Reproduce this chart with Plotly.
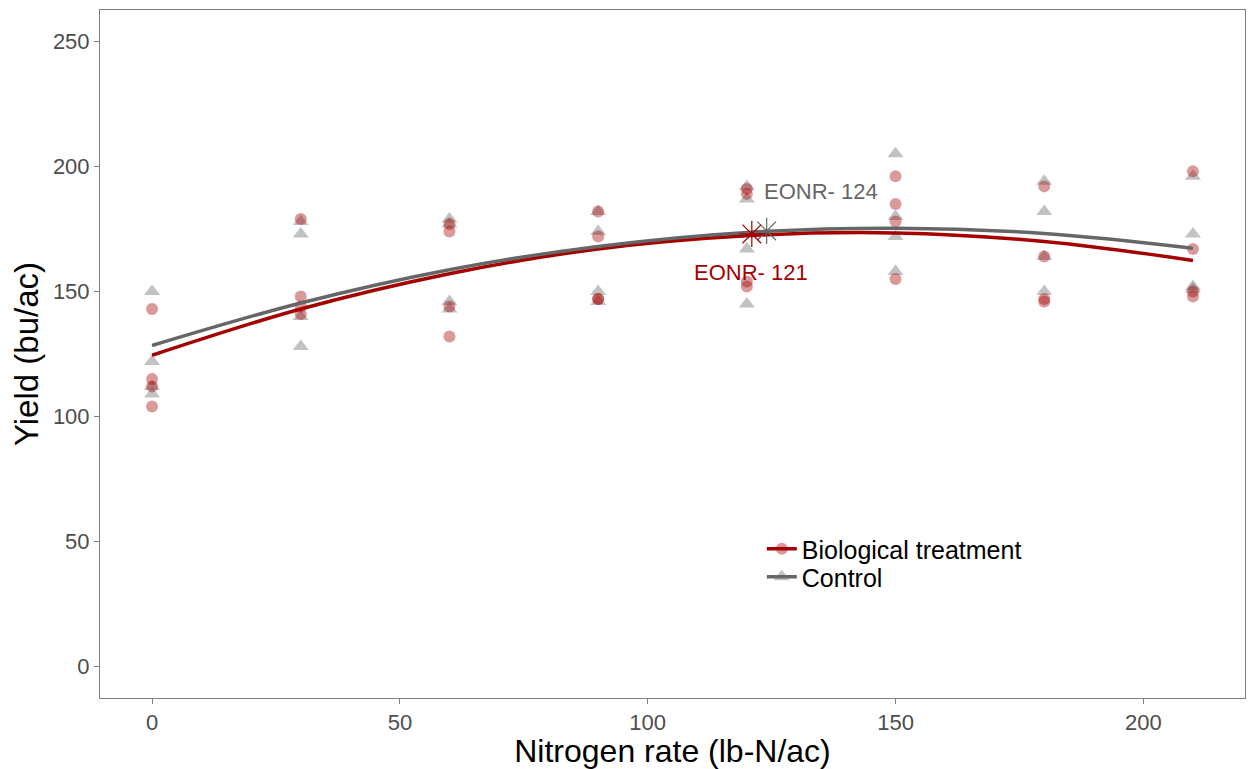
import plotly.graph_objects as go

# --- data ---
n_rates = [0, 30, 60, 90, 120, 150, 180, 210]

bio_x = [r for r in n_rates for _ in range(4)]
bio_y = [143, 115, 112, 104,
         179, 148, 144, 141,
         177, 174, 144, 132,
         182, 172, 147, 147,
         191, 189, 154, 152,
         196, 185, 178, 155,
         192, 164, 147, 146,
         198, 167, 150, 148]

ctrl_x = [r for r in n_rates for _ in range(4)]
ctrl_y = [150, 122, 112, 109,
          178, 173, 140, 128,
          179, 177, 146, 143,
          182, 174, 150, 146,
          192, 187, 167, 145,
          205, 180, 172, 158,
          194, 182, 164, 150,
          196, 173, 152, 151]

# fitted curves (at each rate)
bio_fit = [124.5, 143.0, 157.1, 167.0, 172.3, 173.4, 170.0, 162.4]
ctrl_fit = [128.4, 145.4, 158.7, 168.0, 173.6, 175.3, 173.2, 167.3]

eonr_bio = (121, 173.0)
eonr_ctrl = (124, 174.2)

RED = "#A50000"
GRAY = "#666666"
RED_A = "rgba(165,0,0,0.4)"
GRAY_A = "rgba(102,102,102,0.4)"
FONT = "Liberation Sans, Arial, sans-serif"

fig = go.Figure()

# points
fig.add_trace(go.Scatter(x=ctrl_x, y=ctrl_y, mode="markers",
                         marker=dict(symbol="triangle-up", size=14, color=GRAY_A),
                         showlegend=False))
fig.add_trace(go.Scatter(x=bio_x, y=bio_y, mode="markers",
                         marker=dict(symbol="circle", size=12, color=RED_A),
                         showlegend=False))

# fitted curves
fig.add_trace(go.Scatter(x=n_rates, y=bio_fit, mode="lines", line_shape="spline",
                         line=dict(color=RED, width=3.5), showlegend=False))
fig.add_trace(go.Scatter(x=n_rates, y=ctrl_fit, mode="lines", line_shape="spline",
                         line=dict(color=GRAY, width=3.5), showlegend=False))

# legend entries (each in its own legend to control spacing)
fig.add_trace(go.Scatter(x=[None], y=[None], mode="lines+markers",
                         line=dict(color=RED, width=3.5),
                         marker=dict(symbol="circle", size=12, color=RED_A),
                         name="Biological treatment", legend="legend"))
fig.add_trace(go.Scatter(x=[None], y=[None], mode="lines+markers",
                         line=dict(color=GRAY, width=3.5),
                         marker=dict(symbol="triangle-up", size=14, color=GRAY_A),
                         name="Control", legend="legend2"))

# EONR stars
fig.add_trace(go.Scatter(x=[eonr_ctrl[0]], y=[eonr_ctrl[1]], mode="markers",
                         marker=dict(symbol="asterisk-open", size=22, color=GRAY,
                                     line=dict(color=GRAY, width=1.2)),
                         showlegend=False))
fig.add_trace(go.Scatter(x=[eonr_bio[0]], y=[eonr_bio[1]], mode="markers",
                         marker=dict(symbol="asterisk-open", size=22, color=RED,
                                     line=dict(color=RED, width=1.2)),
                         showlegend=False))

fig.add_annotation(x=123.0, y=189.8, text="EONR- 124", showarrow=False, xanchor="left",
                   font=dict(size=22, color=GRAY, family=FONT))
fig.add_annotation(x=120.8, y=157.5, text="EONR- 121", showarrow=False, xanchor="center",
                   font=dict(size=22, color=RED, family=FONT))

leg_common = dict(xanchor="left", yanchor="middle", bgcolor="rgba(0,0,0,0)",
                  font=dict(size=25, color="black", family=FONT), itemwidth=30)
fig.update_layout(
    width=1248, height=769,
    margin=dict(l=100, r=3, t=10, b=71),
    paper_bgcolor="white", plot_bgcolor="white",
    font=dict(family=FONT),
    legend=dict(x=0.578, y=(698 - 549) / 688, **leg_common),
    legend2=dict(x=0.578, y=(698 - 577) / 688, **leg_common),
    xaxis=dict(range=[-10.5, 220.5], tickvals=[0, 50, 100, 150, 200],
               showgrid=False, zeroline=False,
               showline=True, mirror=True, linecolor="#7f7f7f", linewidth=1,
               ticks="outside", ticklen=5, tickcolor="#7f7f7f",
               tickfont=dict(size=22, color="#4D4D4D"),
               title=dict(text="Nitrogen rate (lb-N/ac)", font=dict(size=32, color="black"), standoff=1)),
    yaxis=dict(range=[-12.5, 262.5], tickvals=[0, 50, 100, 150, 200, 250],
               showgrid=False, zeroline=False,
               showline=True, mirror=True, linecolor="#7f7f7f", linewidth=1,
               ticks="outside", ticklen=5, tickcolor="#7f7f7f",
               tickfont=dict(size=22, color="#4D4D4D"),
               title=dict(text="Yield (bu/ac)", font=dict(size=33, color="black"), standoff=4)),
)

fig.write_html("out.html", config={"displayModeBar": False},
               post_script="document.body.style.margin='0';")
